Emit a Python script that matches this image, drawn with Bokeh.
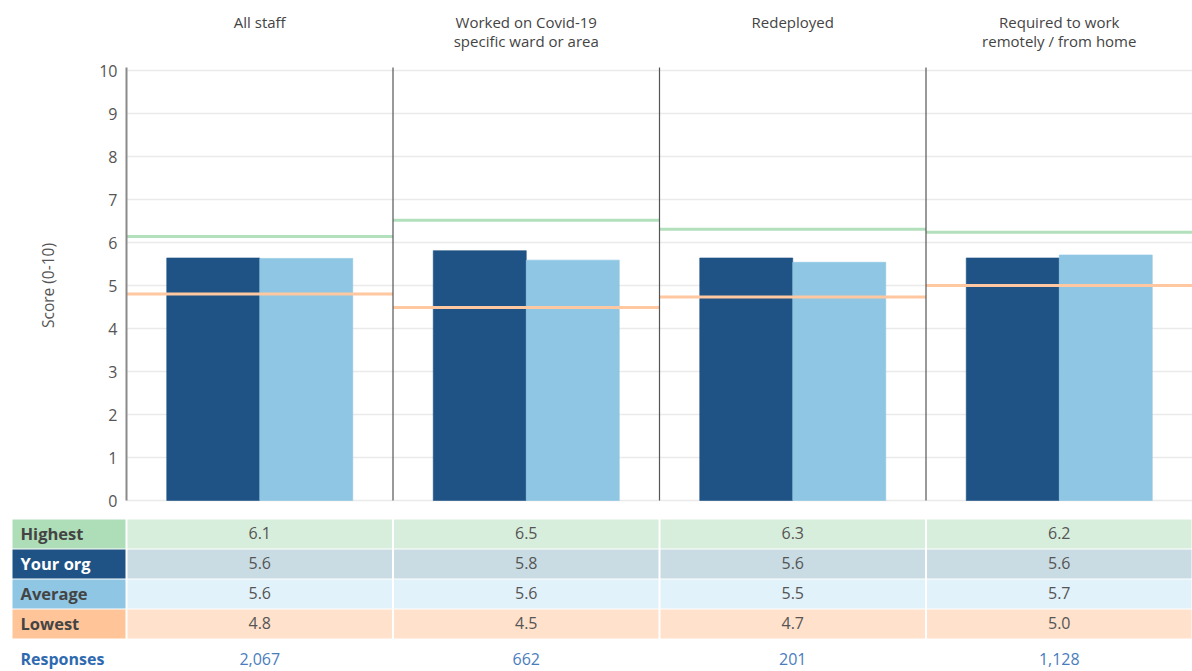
import math
from bokeh.plotting import figure
from bokeh.models import Range1d, FixedTicker, LinearAxis
from bokeh.core.properties import value
from bokeh.embed import file_html
from bokeh.resources import INLINE

# ---- data ----
groups = ["All staff", "Worked on Covid-19\nspecific ward or area", "Redeployed",
          "Required to work\nremotely / from home"]
your_org = [5.64, 5.81, 5.64, 5.64]
average = [5.63, 5.59, 5.54, 5.71]
highest = [6.14, 6.52, 6.31, 6.24]
lowest = [4.80, 4.49, 4.73, 5.00]
responses = ["2,067", "662", "201", "1,128"]
row_labels = ["Highest", "Your org", "Average", "Lowest"]
y_ticks = list(range(0, 11))
y_label = "Score (0-10)"

FONT = value("Open Sans")
DARK = "#1F5385"
LIGHT = "#8EC6E3"
GREEN = "#B2E0BC"
ORANGE = "#FFC8A0"

n = len(groups)
idx = list(range(n))
centers = [i + 0.5 for i in idx]

# layout constants (pixel geometry of the page)
PX_PER_UNIT_Y = 43.0
Y0_PX = 500.0
PX_PER_PANEL = 266.5
X0_PX = 126.0


def ypx(px):
    return (Y0_PX - px) / PX_PER_UNIT_Y


def xpx(px):
    return (px - X0_PX) / PX_PER_PANEL


p = figure(width=1192, height=671, output_backend="svg", toolbar_location=None,
           x_range=Range1d(xpx(0), xpx(1192)), y_range=Range1d(ypx(671), ypx(0)),
           x_axis_type=None, y_axis_type=None, min_border=0)
p.outline_line_color = None
p.grid.visible = False

yaxis = LinearAxis(fixed_location=0, ticker=FixedTicker(ticks=y_ticks))
yaxis.axis_line_color = None
yaxis.major_tick_line_color = None
yaxis.minor_tick_line_color = None
yaxis.major_tick_out = 0
yaxis.major_tick_in = 0
yaxis.major_label_standoff = 9
yaxis.major_label_text_font = "Open Sans"
yaxis.major_label_text_font_size = "16px"
yaxis.major_label_text_color = "#555555"
p.add_layout(yaxis, "left")

# grid lines
p.segment(x0=[0] * len(y_ticks), x1=[n] * len(y_ticks), y0=y_ticks, y1=y_ticks,
          line_color="#EAEAEA", line_width=1.5)

p.text(x=[xpx(47)], y=[5.0], text=[y_label], angle=math.pi / 2, text_font=FONT,
       text_font_size="15.5px", text_color="#555555", text_align="center",
       text_baseline="middle")

bw = 0.349
p.vbar(x=[c - bw / 2 for c in centers], top=your_org, bottom=0, width=bw,
       fill_color=DARK, line_color=DARK, line_alpha=0.6)
p.vbar(x=[c + bw / 2 for c in centers], top=average, bottom=0, width=bw,
       fill_color=LIGHT, line_color=LIGHT, line_alpha=0.6)

p.segment(x0=idx, x1=[i + 1 for i in idx], y0=highest, y1=highest,
          line_color=GREEN, line_width=3)
p.segment(x0=idx, x1=[i + 1 for i in idx], y0=lowest, y1=lowest,
          line_color=ORANGE, line_width=3)

# axis line and separators
p.segment(x0=[0], x1=[0], y0=[0], y1=[10.07], line_color="#8A8A8A", line_width=2)
p.segment(x0=idx[1:], x1=idx[1:], y0=[0] * (n - 1), y1=[10.07] * (n - 1),
          line_color="#555555", line_width=1.2)

p.text(x=centers, y=[ypx(11)] * n, text=groups, text_font=FONT,
       text_font_size="15px", text_color="#444444", text_align="center",
       text_baseline="top", text_line_height=0.98)

# ---- table ----
label_bg = ["#ADDEB7", DARK, "#8EC6E3", "#FFC598"]
cell_bg = ["#D8EEDC", "#C9DCE4", "#E2F2FA", "#FFE1CC"]
label_col = ["#444444", "#FFFFFF", "#444444", "#444444"]
table_vals = [highest, your_org, average, lowest]

rows = list(range(4))
row_top = [ypx(519 + 30 * r) for r in rows]
row_bot = [ypx(519 + 30 * r + 29) for r in rows]
row_mid = [ypx(519 + 30 * r + 13.5) for r in rows]

p.quad(left=[xpx(12)] * 4, right=[xpx(125)] * 4, top=row_top, bottom=row_bot,
       fill_color=label_bg, line_color=None)
p.text(x=[xpx(20)] * 4, y=row_mid, text=row_labels,
       text_font=FONT, text_font_size="16.5px", text_font_style="bold",
       text_color=label_col, text_align="left", text_baseline="middle")

cl, cr, ct, cb, cc, cx, cy, ctext = [], [], [], [], [], [], [], []
for r in rows:
    for i in idx:
        cl.append(i + 1 / PX_PER_PANEL)
        cr.append(i + 1 - 1 / PX_PER_PANEL)
        ct.append(row_top[r])
        cb.append(row_bot[r])
        cc.append(cell_bg[r])
        cx.append(i + 0.5)
        cy.append(row_mid[r])
        ctext.append(f"{table_vals[r][i]:.1f}")
p.quad(left=cl, right=cr, top=ct, bottom=cb, fill_color=cc, line_color=None)
p.text(x=cx, y=cy, text=ctext, text_font=FONT, text_font_size="16px",
       text_color="#555555", text_align="center", text_baseline="middle")

resp_y = ypx(658.5)
p.text(x=[xpx(20)], y=[resp_y], text=["Responses"], text_font=FONT,
       text_font_size="16px", text_font_style="bold", text_color="#2F6AB0",
       text_align="left", text_baseline="middle")
p.text(x=centers, y=[resp_y] * n, text=responses, text_font=FONT,
       text_font_size="16px", text_color="#4A7CBD", text_align="center",
       text_baseline="middle")

open("out.html", "w").write(file_html(p, INLINE))
